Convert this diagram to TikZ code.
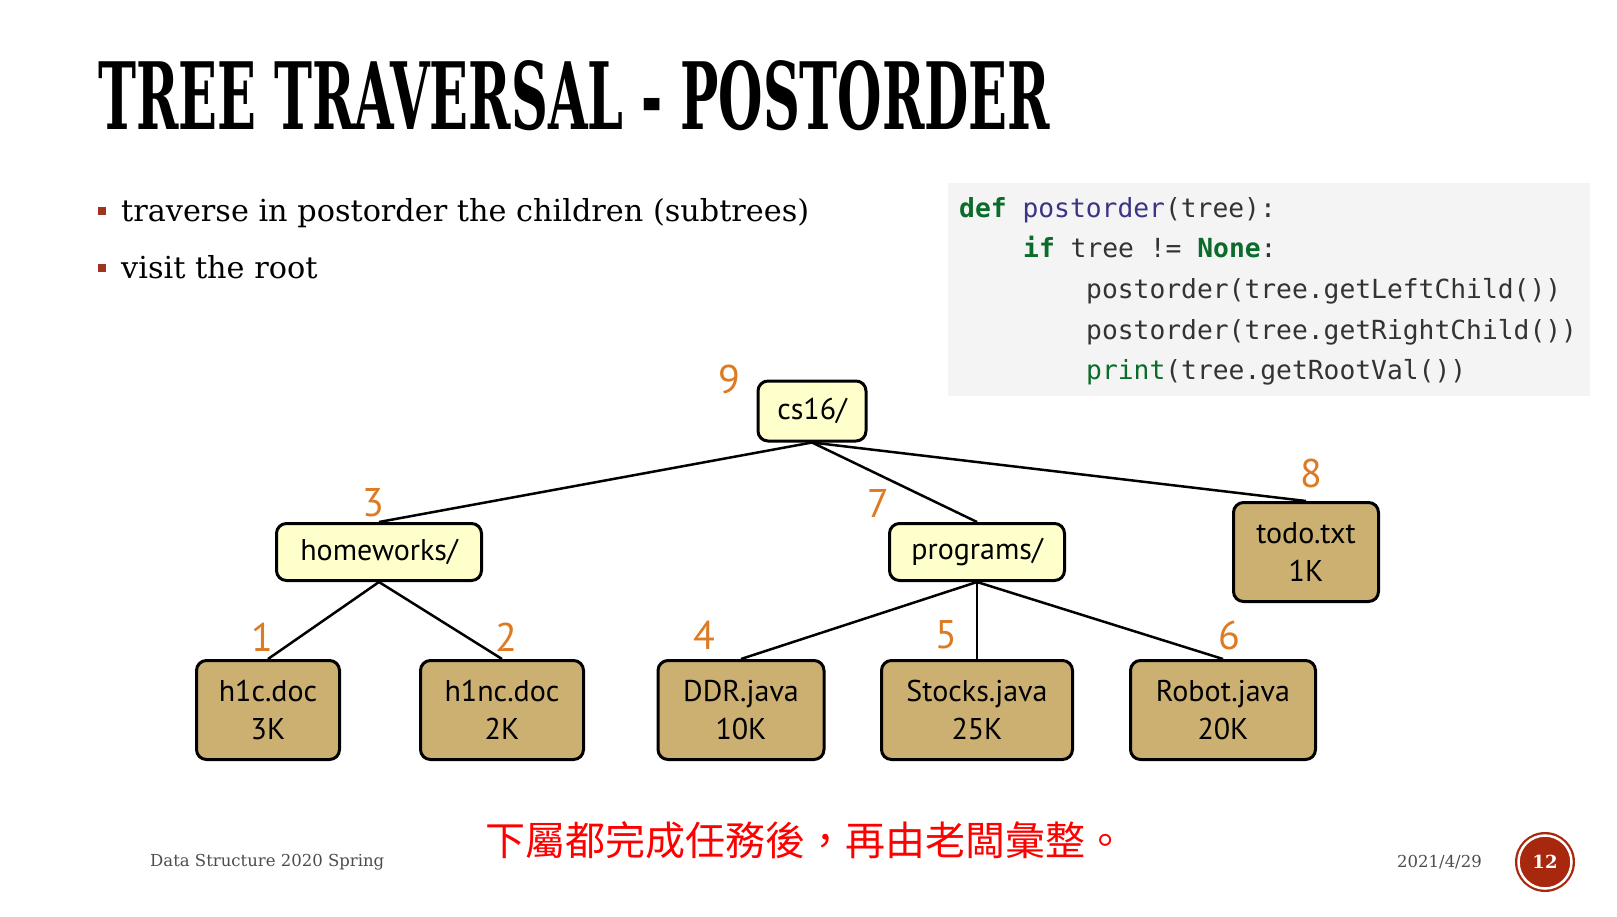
\documentclass[tikz,border=0pt]{standalone}
\usepackage{fontspec}
\usepackage{graphicx}
\setmainfont{DejaVu Serif}
\newfontfamily\nodefont{PT Sans}
\newfontfamily\codefont{DejaVu Sans Mono}
\newfontfamily\cjkfont{Noto Sans CJK TC}
\usetikzlibrary{positioning}

\definecolor{bulletred}{HTML}{A0341E}
\definecolor{numorange}{HTML}{DD7A22}
\definecolor{dirfill}{HTML}{FFFFCC}
\definecolor{filefill}{HTML}{CBB072}
\definecolor{codebg}{HTML}{F4F4F4}
\definecolor{kwgreen}{HTML}{0A6B2A}
\definecolor{fnblue}{HTML}{3A3487}
\definecolor{codegray}{HTML}{333333}
\definecolor{footgray}{HTML}{4D4D4D}
\definecolor{pagered}{HTML}{A8280E}

\begin{document}
\begin{tikzpicture}[
  x=1pt, y=-1pt,
  dirbox/.style={draw, line width=3pt, rounded corners=10pt, fill=dirfill,
                 font=\nodefont\fontsize{30}{38}\selectfont,
                 align=center, inner sep=0pt},
  filebox/.style={dirbox, fill=filefill},
  num/.style={text=numorange, font=\nodefont\fontsize{40}{40}\selectfont, inner sep=0pt},
  link/.style={line width=2.5pt},
  codeline/.style={anchor=base west, inner sep=0pt, text=codegray,
                   font=\codefont\fontsize{26.3}{26}\selectfont},
  bullet/.style={fill=bulletred, minimum size=8pt, inner sep=0pt},
  bultext/.style={anchor=base west, inner sep=0pt, font=\fontsize{30.3}{30}\selectfont},
  foot/.style={inner sep=0pt, text=footgray, font=\fontsize{16.5}{16.5}\selectfont},
]
  \useasboundingbox[fill=white] (0,0) rectangle (1617,916);

  % title and bullets
  \node[anchor=north west, inner sep=0pt] (title) at (98,60)
    {\resizebox{952pt}{69pt}{\bfseries TREE TRAVERSAL - POSTORDER}};
  \node[bullet] (b1) at (102,211) {};
  \node[bultext] (t1) at (121,221) {traverse in postorder the children (subtrees)};
  \node[bullet] (b2) at (102,268) {};
  \node[bultext] (t2) at (121,278) {visit the root};

  % code
  \node[fill=codebg, anchor=north west, inner sep=0pt,
        minimum width=642pt, minimum height=213pt] (codebox) at (948,183) {};
  \node[codeline] (c1) at (959,217)
    {\textcolor{kwgreen}{\bfseries def} \textcolor{fnblue}{postorder}(tree):};
  \node[codeline] (c2) at (1023,257)
    {\textcolor{kwgreen}{\bfseries if} tree != \textcolor{kwgreen}{\bfseries None}:};
  \node[codeline] (c3) at (1086,298) {postorder(tree.getLeftChild())};
  \node[codeline] (c4) at (1086,339) {postorder(tree.getRightChild())};
  \node[codeline] (c5) at (1086,379) {\textcolor{kwgreen}{print}(tree.getRootVal())};

  % tree
  \node[dirbox, minimum width=108pt, minimum height=60pt] (root) at (812,411) {cs16/};
  \node[dirbox, minimum width=205pt, minimum height=57pt] (hw) at (379,552) {homeworks/};
  \node[dirbox, minimum width=175pt, minimum height=57pt] (prog) at (977,552) {programs/};
  \node[filebox, minimum width=145pt, minimum height=99pt] (todo) at (1306,552) {todo.txt\\1K};
  \node[filebox, minimum width=143pt, minimum height=99pt] (h1c) at (268,710) {h1c.doc\\3K};
  \node[filebox, minimum width=163pt, minimum height=99pt] (h1nc) at (502,710) {h1nc.doc\\2K};
  \node[filebox, minimum width=166pt, minimum height=99pt] (ddr) at (741,710) {DDR.java\\10K};
  \node[filebox, minimum width=191pt, minimum height=99pt] (stocks) at (977,710) {Stocks.java\\25K};
  \node[filebox, minimum width=185pt, minimum height=99pt] (robot) at (1223,710) {Robot.java\\20K};

  \draw[link] (root.south) -- (hw.north);
  \draw[link] (root.south) -- (prog.north);
  \draw[link] (root.south) -- (todo.north);
  \draw[link] (hw.south) -- (h1c.north);
  \draw[link] (hw.south) -- (h1nc.north);
  \draw[link] (prog.south) -- (ddr.north);
  \draw[link] (prog.south) -- (stocks.north);
  \draw[link] (prog.south) -- (robot.north);

  % visiting order
  \node[num] (n9) at (729,379) {9};
  \node[num] (n3) at (373,503) {3};
  \node[num] (n7) at (878,503) {7};
  \node[num] (n8) at (1311,473) {8};
  \node[num] (n1) at (262,637) {1};
  \node[num] (n2) at (506,637) {2};
  \node[num] (n4) at (704,635) {4};
  \node[num] (n5) at (946,635) {5};
  \node[num] (n6) at (1229,635) {6};

  % footer
  \node[foot, anchor=west] (course) at (150,862) {Data Structure 2020 Spring};
  \node[foot, anchor=east] (date) at (1482,862) {2021/4/29};
  \node[text=red, inner sep=0pt, font=\cjkfont\fontsize{40}{40}\selectfont] (note) at (805,840)
    {下屬都完成任務後，再由老闆彙整。};
  \node[circle, fill=pagered, minimum size=60pt, inner sep=0pt] (page) at (1545,862) {};
  \draw[white, line width=2.5pt] (page.center) circle[radius=26.5pt];
  \node[text=white, font=\bfseries\fontsize{18}{18}\selectfont] (pagenum) at (page.center) {12};
\end{tikzpicture}
\end{document}
